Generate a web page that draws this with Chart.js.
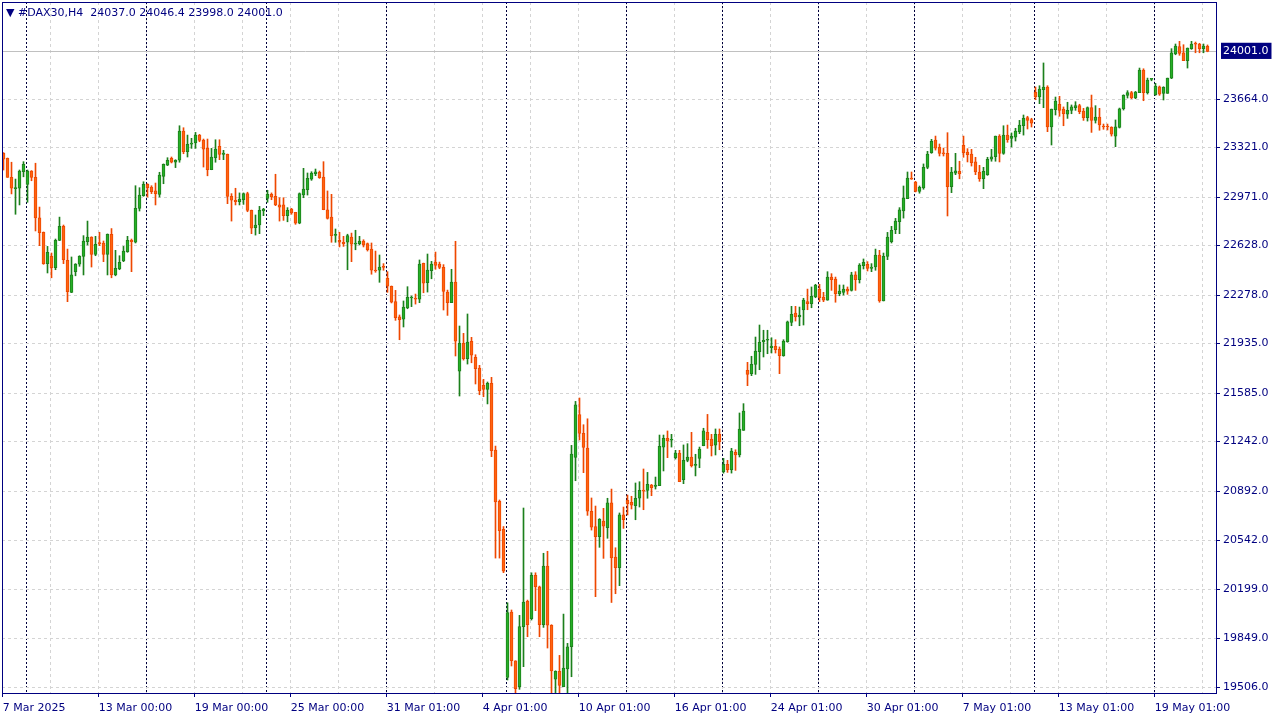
<!DOCTYPE html>
<html>
<head>
<meta charset="utf-8">
<title>DAX30 H4</title>
<script src="https://cdn.jsdelivr.net/npm/chart.js@4.4.1/dist/chart.umd.min.js"></script>
<style>
    html, body { margin: 0; padding: 0; background: #ffffff; }
    #wrap { position: relative; width: 1280px; height: 720px; }
    #header {
        position: absolute; left: 6px; top: 6px;
        font: 11px "DejaVu Sans", sans-serif; color: #000080; white-space: pre;
    }
</style>
</head>
<body>
<div id="wrap">
    <canvas id="dax" width="1280" height="720"></canvas>
    <div id="header">▼ #DAX30,H4  24037.0 24046.4 23998.0 24001.0</div>
</div>
<script>
// ============================================
// DAX30 H4 candles, 7 Mar - 20 May 2025
// ============================================

const open = [
    23280, 23245, 23110, 23030, 23033, 23150, 23061, 23155, 23110, 22824,
    22722, 22500, 22551, 22471, 22665, 22764, 22524, 22297, 22443, 22496,
    22551, 22655, 22688, 22566, 22646, 22646, 22566, 22708, 22420, 22462,
    22519, 22584, 22665, 22651, 22891, 22980, 23061, 23042, 23014, 22990,
    23117, 23197, 23245, 23217, 23231, 23438, 23291, 23344, 23353, 23409,
    23374, 23315, 23164, 23249, 23330, 23273, 23273, 22976, 22948, 22938,
    22952, 22995, 22877, 22754, 22773, 22872, 22962, 22990, 22976, 22915,
    22915, 22839, 22886, 22863, 22787, 22985, 23023, 23098, 23136, 23146,
    23112, 22881, 22830, 22700, 22665, 22651, 22651, 22688, 22637, 22641,
    22660, 22641, 22603, 22453, 22453, 22476, 22396, 22340, 22231, 22123,
    22108, 22186, 22257, 22250, 22248, 22502, 22365, 22450, 22511, 22497,
    22474, 22299, 22224, 22370, 21739, 21937, 21828, 21951, 21837, 21762,
    21639, 21611, 21654, 21182, 20820, 20622, 19575, 20037, 19692, 19508,
    19933, 20112, 19989, 20296, 20215, 19947, 20362, 19943, 19561, 19617,
    19508, 19635, 19791, 21130, 21432, 21300, 21196, 20749, 20640, 20569,
    20680, 20633, 20808, 20425, 20350, 20723, 20826, 20812, 20789, 20841,
    20899, 20897, 20935, 20925, 20930, 21203, 21265, 21251, 21128, 21161,
    20972, 21109, 21133, 21074, 21123, 21212, 21307, 21260, 21217, 21293,
    21029, 21081, 21043, 21166, 21147, 21321, 21746, 21722, 21788, 21877,
    21948, 21958, 21906, 21916, 21896, 21849, 21948, 22085, 22151, 22123,
    22172, 22231, 22217, 22264, 22320, 22264, 22241, 22405, 22391, 22287,
    22297, 22320, 22311, 22420, 22386, 22485, 22495, 22467, 22476, 22561,
    22236, 22551, 22655, 22740, 22796, 22872, 22959, 23100, 23077, 23011,
    23035, 23181, 23284, 23374, 23322, 23284, 23280, 23044, 23139, 23153,
    23337, 23289, 23275, 23219, 23148, 23100, 23129, 23238, 23256, 23402,
    23279, 23409, 23386, 23395, 23433, 23475, 23532, 23518, 23711, 23678,
    23730, 23749, 23466, 23588, 23627, 23593, 23556, 23584, 23603, 23617,
    23579, 23532, 23603, 23513, 23537, 23473, 23468, 23464, 23402, 23464,
    23595, 23690, 23709, 23671, 23709, 23869, 23709, 23803, 23694, 23751,
    23704, 23704, 23812, 23982, 24034, 23991, 23935, 24020, 24053, 24053,
    24020, 24037
];

const high = [
    23285, 23247, 23217, 23098, 23162, 23221, 23162, 23158, 23210, 22900,
    22724, 22622, 22575, 22674, 22829, 22773, 22603, 22547, 22500, 22556,
    22698, 22801, 22690, 22693, 22722, 22660, 22710, 22748, 22594, 22556,
    22622, 22693, 22674, 23051, 23037, 23079, 23065, 23051, 23070, 23146,
    23205, 23249, 23254, 23235, 23475, 23461, 23409, 23386, 23428, 23414,
    23381, 23381, 23315, 23376, 23376, 23301, 23275, 22995, 23033, 23000,
    23000, 23005, 22879, 22844, 22905, 22891, 23019, 23000, 23132, 22966,
    22966, 22896, 22891, 22863, 23000, 23174, 23141, 23150, 23169, 23155,
    23221, 23014, 22990, 22745, 22722, 22693, 22708, 22716, 22736, 22693,
    22669, 22646, 22646, 22589, 22561, 22500, 22443, 22342, 22311, 22137,
    22236, 22337, 22271, 22285, 22526, 22504, 22568, 22516, 22582, 22511,
    22493, 22313, 22460, 22658, 22059, 22007, 22144, 21979, 21856, 21781,
    21682, 21663, 21696, 21210, 20829, 20641, 20102, 20051, 19692, 20013,
    20772, 20121, 20314, 20314, 20220, 20452, 20466, 19947, 19621, 19730,
    20022, 19815, 21215, 21526, 21550, 21361, 21403, 20843, 20786, 20697,
    20770, 20841, 20906, 20491, 20737, 20779, 20864, 20855, 20949, 20958,
    21048, 21024, 20939, 20991, 21288, 21288, 21317, 21293, 21180, 21180,
    21218, 21227, 21307, 21152, 21203, 21336, 21434, 21293, 21331, 21331,
    21123, 21109, 21194, 21184, 21444, 21510, 21802, 21845, 21981, 22066,
    22029, 22029, 21976, 21962, 21911, 21962, 22094, 22198, 22198, 22193,
    22255, 22320, 22335, 22354, 22354, 22297, 22443, 22429, 22405, 22349,
    22349, 22335, 22439, 22443, 22500, 22533, 22514, 22500, 22603, 22594,
    22575, 22721, 22764, 22820, 22896, 23049, 23148, 23148, 23082, 23049,
    23205, 23294, 23379, 23402, 23346, 23317, 23426, 23181, 23280, 23224,
    23402, 23313, 23308, 23252, 23195, 23181, 23252, 23308, 23402, 23412,
    23475, 23480, 23424, 23457, 23513, 23551, 23542, 23528, 23749, 23758,
    23919, 23758, 23593, 23678, 23683, 23608, 23641, 23622, 23645, 23627,
    23598, 23608, 23692, 23617, 23598, 23487, 23487, 23468, 23516, 23600,
    23694, 23723, 23718, 23718, 23883, 23878, 23812, 23808, 23775, 23756,
    23751, 23812, 24020, 24053, 24072, 24048, 24025, 24072, 24067, 24058,
    24053, 24046.4
];

const low = [
    23162, 23110, 22993, 22849, 22915, 23114, 22934, 23086, 22731, 22627,
    22495, 22434, 22400, 22457, 22663, 22500, 22231, 22295, 22414, 22481,
    22420, 22632, 22476, 22556, 22627, 22514, 22420, 22400, 22414, 22457,
    22514, 22580, 22443, 22646, 22872, 22976, 22971, 22995, 22915, 22971,
    23065, 23193, 23212, 23179, 23217, 23277, 23254, 23315, 23315, 23362,
    23183, 23121, 23164, 23217, 23235, 23235, 22924, 22801, 22915, 22915,
    22919, 22867, 22712, 22702, 22712, 22839, 22934, 22952, 22910, 22801,
    22806, 22796, 22849, 22778, 22782, 22966, 22985, 23089, 23122, 23103,
    22881, 22815, 22651, 22651, 22618, 22622, 22457, 22514, 22598, 22632,
    22618, 22589, 22425, 22439, 22368, 22453, 22297, 22222, 22099, 21962,
    22052, 22181, 22196, 22214, 22224, 22294, 22299, 22393, 22460, 22464,
    22172, 22134, 22224, 21847, 21564, 21818, 21790, 21799, 21649, 21573,
    21559, 21508, 21135, 20418, 20418, 20315, 19556, 19655, 19287, 19490,
    19650, 19862, 19980, 20046, 19862, 19928, 19782, 19386, 19306, 19325,
    19508, 19339, 19579, 20965, 21253, 21022, 20720, 20616, 20145, 20494,
    20416, 20558, 20104, 20166, 20223, 20628, 20723, 20765, 20689, 20779,
    20760, 20841, 20859, 20906, 20930, 21034, 21128, 21203, 21118, 20958,
    20944, 21099, 21062, 20999, 21057, 21212, 21194, 21140, 21147, 21184,
    21019, 21024, 21019, 21038, 21133, 21321, 21637, 21708, 21717, 21750,
    21840, 21863, 21868, 21868, 21722, 21845, 21944, 22061, 22094, 22061,
    22066, 22174, 22188, 22259, 22231, 22231, 22241, 22311, 22227, 22273,
    22278, 22283, 22306, 22311, 22363, 22462, 22448, 22443, 22453, 22227,
    22236, 22528, 22646, 22712, 22712, 22822, 22959, 23096, 23007, 22998,
    23026, 23171, 23280, 23303, 23261, 23261, 22837, 23002, 23129, 23100,
    23252, 23219, 23190, 23129, 23082, 23030, 23124, 23224, 23224, 23219,
    23273, 23358, 23325, 23367, 23419, 23409, 23452, 23466, 23659, 23631,
    23603, 23433, 23339, 23551, 23542, 23475, 23527, 23560, 23584, 23560,
    23513, 23508, 23428, 23494, 23443, 23450, 23445, 23402, 23327, 23459,
    23586, 23671, 23666, 23666, 23709, 23652, 23699, 23793, 23690, 23690,
    23657, 23704, 23808, 23977, 23973, 23935, 23883, 24015, 23991, 23991,
    23991, 23998
];

const close = [
    23238, 23110, 23033, 23036, 23155, 23203, 23155, 23110, 22824, 22719,
    22500, 22580, 22471, 22665, 22764, 22528, 22301, 22420, 22496, 22551,
    22660, 22688, 22566, 22637, 22641, 22566, 22708, 22420, 22467, 22510,
    22589, 22665, 22655, 22891, 22985, 23061, 23037, 23009, 22995, 23126,
    23203, 23231, 23217, 23231, 23438, 23291, 23344, 23353, 23409, 23372,
    23310, 23164, 23254, 23310, 23273, 23282, 22976, 22948, 22938, 22957,
    22995, 22877, 22750, 22773, 22877, 22886, 22990, 22971, 22915, 22900,
    22839, 22877, 22858, 22787, 22995, 23028, 23103, 23141, 23150, 23108,
    22881, 22820, 22698, 22704, 22651, 22641, 22698, 22637, 22646, 22660,
    22632, 22598, 22453, 22448, 22476, 22474, 22340, 22227, 22118, 22104,
    22193, 22262, 22260, 22248, 22497, 22361, 22455, 22497, 22488, 22474,
    22304, 22224, 22370, 21951, 21937, 21828, 21946, 21852, 21757, 21601,
    21611, 21654, 21177, 20815, 20612, 20325, 20032, 19692, 19494, 19933,
    20107, 19947, 20296, 20215, 19947, 20362, 19943, 19621, 19617, 19518,
    19640, 19791, 21154, 21502, 21300, 21201, 20749, 20636, 20569, 20692,
    20643, 20808, 20420, 20350, 20723, 20690, 20802, 20793, 20841, 20897,
    20892, 20939, 20916, 20935, 21208, 21265, 21246, 21253, 21161, 20958,
    21109, 21133, 21071, 21081, 21189, 21317, 21255, 21212, 21293, 21241,
    21081, 21043, 21175, 21147, 21331, 21458, 21717, 21788, 21882, 21944,
    21958, 21960, 21916, 21892, 21849, 21953, 22089, 22142, 22123, 22137,
    22243, 22217, 22269, 22349, 22259, 22241, 22405, 22386, 22287, 22306,
    22320, 22306, 22420, 22386, 22490, 22509, 22467, 22476, 22561, 22236,
    22551, 22688, 22735, 22801, 22881, 22964, 23105, 23098, 23011, 23040,
    23181, 23275, 23365, 23317, 23280, 23275, 23044, 23148, 23157, 23134,
    23284, 23270, 23214, 23148, 23100, 23153, 23238, 23256, 23402, 23280,
    23409, 23376, 23400, 23438, 23480, 23528, 23513, 23494, 23678, 23735,
    23749, 23466, 23593, 23650, 23584, 23560, 23584, 23608, 23617, 23574,
    23532, 23603, 23513, 23537, 23480, 23466, 23466, 23416, 23468, 23595,
    23690, 23709, 23671, 23713, 23869, 23709, 23798, 23805, 23756, 23699,
    23747, 23812, 23991, 24039, 23987, 23935, 24025, 24053, 24051, 24020,
    24039, 24001
];

// bar index of the first H4 candle of each week (period separators)
const weekStarts = [6, 36, 66, 96, 126, 156, 180, 204, 228, 258, 288];

// time scale labels and the bars they belong to
const labelBars = [0, 24, 48, 72, 96, 120, 144, 168, 192, 216, 240, 264, 288];
const timeLabels = [
    '7 Mar 2025', '13 Mar 00:00', '19 Mar 00:00', '25 Mar 00:00', '31 Mar 01:00',
    '4 Apr 01:00', '10 Apr 01:00', '16 Apr 01:00', '24 Apr 01:00', '30 Apr 01:00',
    '7 May 01:00', '13 May 01:00', '19 May 01:00'
];

// price scale labels
const priceTicks = [19506, 19849, 20199, 20542, 20892, 21242, 21585, 21935, 22278, 22628, 22971, 23321, 23664];

const lastClose = close[close.length - 1];

const NAVY = '#000080';
const SEP = '#00003c';
const BULL_FILL = '#26b026';
const BULL_LINE = '#1c801c';
const BEAR_FILL = '#ff6410';
const BEAR_LINE = '#ee4800';
const GRID = '#d4d4d4';
const CLEAR = 'rgba(0,0,0,0)';
const FONT = { family: 'DejaVu Sans', size: 11 };

const X_MIN = -0.375;
const X_MAX = 303.125;

const isBull = i => close[i] >= open[i];
const tickVal = c => (c && c.tick) ? c.tick.value : NaN;
const isLabelTick = c => labelBars.includes(Math.round(tickVal(c)));
const isPriceTick = c => tickVal(c) === lastClose;

const wickData = open.map((o, i) => ({ x: i, y: [low[i], high[i]] }));
const bodyData = open.map((o, i) => ({ x: i, y: [o, close[i]] }));

// frame round the plot + current price line
const framePlugin = {
    id: 'frame',
    beforeDatasetsDraw(chart) {
        const { ctx, chartArea } = chart;
        const py = Math.round(chart.scales.y.getPixelForValue(lastClose)) + 0.5;
        ctx.save();
        ctx.strokeStyle = '#c0c0c0';
        ctx.lineWidth = 1;
        ctx.beginPath();
        ctx.moveTo(chartArea.left, py);
        ctx.lineTo(chartArea.right, py);
        ctx.stroke();
        ctx.restore();
    },
    afterDraw(chart) {
        const { ctx, chartArea } = chart;
        ctx.save();
        ctx.strokeStyle = NAVY;
        ctx.lineWidth = 1;
        ctx.strokeRect(chartArea.left + 0.5, chartArea.top + 0.5,
            chartArea.right - chartArea.left, chartArea.bottom - chartArea.top);
        ctx.restore();
    }
};

new Chart(document.getElementById('dax'), {
    type: 'bar',
    data: {
        datasets: [
            {
                label: 'wick',
                data: wickData,
                order: 2,
                grouped: false,
                barThickness: 1,
                minBarLength: 1,
                backgroundColor: c => isBull(c.dataIndex) ? BULL_LINE : BEAR_LINE,
                borderWidth: 0
            },
            {
                label: 'body',
                data: bodyData,
                order: 1,
                grouped: false,
                barThickness: 3,
                minBarLength: 1,
                backgroundColor: c => isBull(c.dataIndex) ? BULL_FILL : BEAR_FILL,
                borderColor: c => isBull(c.dataIndex) ? BULL_LINE : BEAR_LINE,
                borderWidth: 1,
                borderSkipped: false
            }
        ]
    },
    options: {
        responsive: false,
        animation: false,
        layout: { padding: { top: 2, left: 2, right: 0, bottom: 0 } },
        plugins: {
            legend: { display: false },
            tooltip: { enabled: false }
        },
        scales: {
            x: {
                type: 'linear',
                position: 'bottom',
                offset: false,
                min: X_MIN,
                max: X_MAX,
                afterBuildTicks: s => {
                    const t = [];
                    for (let b = 0; b <= 300; b += 12) t.push({ value: b - 0.2 });
                    s.ticks = t;
                },
                afterFit: s => {
                    s.height = 27;
                    s.paddingLeft = 0;
                    s.paddingRight = 0;
                },
                grid: {
                    offset: false,
                    color: GRID,
                    borderDash: [3, 3],
                    tickLength: 4,
                    tickColor: c => isLabelTick(c) ? NAVY : CLEAR,
                    tickBorderDash: []
                },
                border: { display: false, dash: [3, 3] },
                ticks: {
                    autoSkip: false,
                    maxRotation: 0,
                    align: 'start',
                    padding: 5,
                    color: NAVY,
                    font: FONT,
                    callback: v => {
                        const k = labelBars.indexOf(Math.round(v));
                        return k >= 0 ? timeLabels[k] : '';
                    }
                }
            },
            sep: {
                type: 'linear',
                position: 'top',
                offset: false,
                min: X_MIN,
                max: X_MAX,
                afterBuildTicks: s => { s.ticks = weekStarts.map(b => ({ value: b - 0.2 })); },
                afterFit: s => {
                    s.height = 0;
                    s.paddingLeft = 0;
                    s.paddingRight = 0;
                },
                grid: { offset: false, color: SEP, borderDash: [2, 2], drawTicks: false },
                border: { display: false, dash: [2, 2] },
                ticks: { display: false }
            },
            y: {
                position: 'right',
                min: 19464,
                max: 24350,
                afterBuildTicks: s => {
                    s.ticks = priceTicks.map(v => ({ value: v })).concat([{ value: lastClose }]);
                },
                afterFit: s => {
                    s.width = 64;
                    s.paddingTop = 0;
                    s.paddingBottom = 0;
                },
                grid: {
                    color: c => isPriceTick(c) ? CLEAR : GRID,
                    borderDash: [3, 3],
                    tickLength: 4,
                    tickColor: c => isPriceTick(c) ? CLEAR : NAVY,
                    tickBorderDash: []
                },
                border: { display: false, dash: [3, 3] },
                ticks: {
                    padding: 3,
                    font: FONT,
                    color: c => isPriceTick(c) ? '#ffffff' : NAVY,
                    showLabelBackdrop: true,
                    backdropColor: c => isPriceTick(c) ? NAVY : CLEAR,
                    backdropPadding: { top: 2, bottom: 1, left: 2, right: 3 },
                    callback: v => v.toFixed(1)
                }
            }
        }
    },
    plugins: [framePlugin]
});
</script>
</body>
</html>
